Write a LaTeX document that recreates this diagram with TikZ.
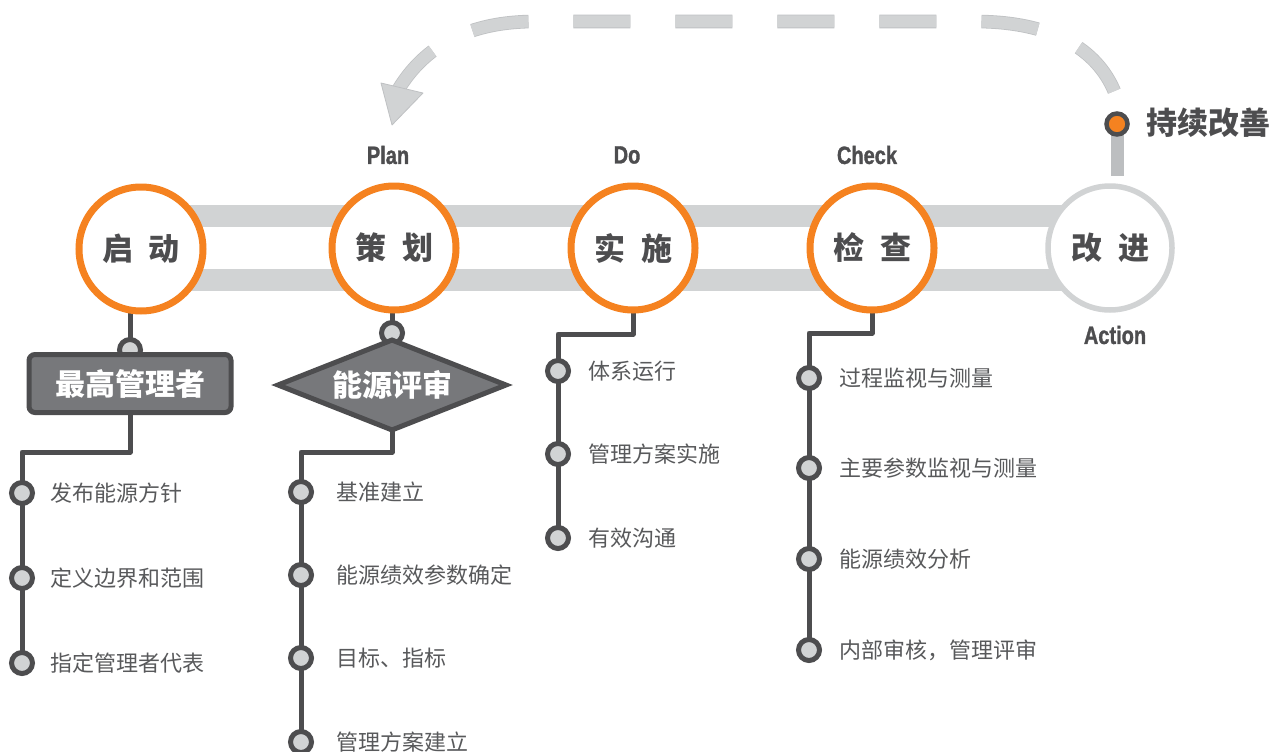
\documentclass[tikz,border=0pt]{standalone}
\usepackage{fontspec}
\setmainfont{Liberation Sans}
\newfontfamily\cjk{Noto Sans CJK SC}
\newfontfamily\cond{Liberation Sans}[FakeStretch=0.8, BoldFeatures={FakeBold=1.3}]
\usetikzlibrary{shapes.geometric,backgrounds}
\definecolor{org}{HTML}{F58220}
\definecolor{dk}{HTML}{4D4D4F}
\definecolor{lg}{HTML}{D1D3D4}
\definecolor{md}{HTML}{77787B}
\definecolor{tx}{HTML}{58595B}
\definecolor{barc}{HTML}{BCBEC0}
\definecolor{arcline}{HTML}{BFC1C3}
\tikzset{
  stage/.style={circle, draw=org, line width=7pt, fill=white, minimum size=124pt, inner sep=0pt,
    font=\cjk\bfseries\fontsize{31}{31}\selectfont, text=dk},
  dotc/.style={circle, draw=dk, line width=5pt, fill=lg, minimum size=21pt, inner sep=0pt},
  link/.style={draw=dk, line width=5pt, line join=round},
  itemtext/.style={anchor=west, inner sep=0pt, text=tx, font=\cjk\fontsize{22}{22}\selectfont},
  phase/.style={inner sep=0pt, text=dk, font=\cond\bfseries\fontsize{25}{25}\selectfont},
  boxnode/.style={rectangle, rounded corners=6pt, draw=dk, line width=5pt, fill=md,
    minimum width=202pt, minimum height=58pt, inner sep=0pt, text=white,
    font=\cjk\bfseries\fontsize{30}{30}\selectfont},
  diam/.style={diamond, aspect=2.45, draw=dk, line width=5pt, fill=md,
    minimum width=230pt, minimum height=92pt, inner sep=0pt, text=white,
    font=\cjk\bfseries\fontsize{30}{30}\selectfont},
  band/.style={draw=lg, line width=22pt},
  looparc/.style={draw=arcline, line width=0.8pt, double=lg, double distance=12pt,
    dash pattern=on 57pt off 45pt, dash phase=-2pt},
}
\begin{document}
\begin{tikzpicture}[x=1pt,y=-1pt]
\useasboundingbox (0,0) rectangle (1282,752);

% stages
\node[stage] (c1) at (141,249) {启\hspace{16pt}动};
\node[stage] (c2) at (394,248) {策\hspace{16pt}划};
\node[stage] (c3) at (633,248) {实\hspace{16pt}施};
\node[stage] (c4) at (872,248) {检\hspace{16pt}查};
\node[stage, draw=lg, line width=5.5pt] (c5) at (1110,248) {改\hspace{16pt}进};

% phase labels
\node[phase] (lplan) at (388,155) {Plan};
\node[phase] (ldo) at (627,155) {Do};
\node[phase] (lcheck) at (867,155) {Check};
\node[phase] (lact) at (1115,335) {Action};

% continuous improvement
\node[circle, draw=dk, line width=4.5pt, fill=org, minimum size=21pt, inner sep=0pt] (top) at (1117,124) {};
\node[anchor=west, inner sep=0pt, text=dk, font=\cjk\bfseries\fontsize{31}{31}\selectfont] (ci) at (1146,123) {持续改善};
\path ([yshift=7pt]c5.north) coordinate (c5top);

% dashed loop arrow
\coordinate (arcS) at (1115,93);
\coordinate (arcE) at (398,90);
\draw[looparc] (arcS) .. controls (1100,55) and (1060,21.5) .. (975,21.5) -- (535,21.5)
  .. controls (470,21.5) and (425,45) .. (arcE);
\filldraw[fill=lg, draw=arcline, line width=0.8pt, line join=round] (381,83) -- (423,93) -- (392,125) -- cycle;

% start branch
\node[dotc] (d1) at (130,350) {};
\node[boxnode] (b1) at (130,383.5) {最高管理者};
\node[dotc] (i11) at (22,493) {};
\node[dotc] (i12) at (22,578) {};
\node[dotc] (i13) at (22,663) {};
\node[itemtext] (t11) at (50,493) {发布能源方针};
\node[itemtext] (t12) at (50,578) {定义边界和范围};
\node[itemtext] (t13) at (50,663) {指定管理者代表};
\coordinate (k1) at (22,452);

% plan branch
\node[dotc] (d2) at (392,333) {};
\node[diam] (b2) at (392,385) {能源评审};
\node[dotc] (i21) at (301,492) {};
\node[dotc] (i22) at (301,575) {};
\node[dotc] (i23) at (301,658) {};
\node[dotc] (i24) at (301,742) {};
\node[itemtext] (t21) at (336,492) {基准建立};
\node[itemtext] (t22) at (336,575) {能源绩效参数确定};
\node[itemtext] (t23) at (336,658) {目标、指标};
\node[itemtext] (t24) at (336,742) {管理方案建立};
\coordinate (k2) at (301,452);

% do branch
\node[dotc] (i31) at (558,371) {};
\node[dotc] (i32) at (558,454) {};
\node[dotc] (i33) at (558,538) {};
\node[itemtext] (t31) at (588,371) {体系运行};
\node[itemtext] (t32) at (588,454) {管理方案实施};
\node[itemtext] (t33) at (588,538) {有效沟通};
\coordinate (k3) at (558,334);

% check branch
\node[dotc] (i41) at (809,378) {};
\node[dotc] (i42) at (809,468) {};
\node[dotc] (i43) at (809,559) {};
\node[dotc] (i44) at (809,650) {};
\node[itemtext] (t41) at (839,378) {过程监视与测量};
\node[itemtext] (t42) at (839,468) {主要参数监视与测量};
\node[itemtext] (t43) at (839,559) {能源绩效分析};
\node[itemtext] (t44) at (839,650) {内部审核，管理评审};
\coordinate (k4) at (809,333);

\begin{pgfonlayer}{background}
  \draw[band] (c1.center |- 0,216) -- (c5.center |- 0,216);
  \draw[band] (c1.center |- 0,279.5) -- (c5.center |- 0,279.5);
  \draw[draw=barc, line width=13pt] (top.center) -- (top.center |- c5top);
  \draw[link] (d1.center |- c1.center) -- (d1.center) -- (b1.center);
  \draw[link] (b1.center) |- (k1) -- (i13.center);
  \draw[link] (d2.center |- c2.center) -- (d2.center) -- (b2.center);
  \draw[link] (b2.center) |- (k2) -- (i24.center);
  \draw[link] (c3.center) |- (k3) -- (i33.center);
  \draw[link] (c4.center) |- (k4) -- (i44.center);
\end{pgfonlayer}
\end{tikzpicture}
\end{document}
